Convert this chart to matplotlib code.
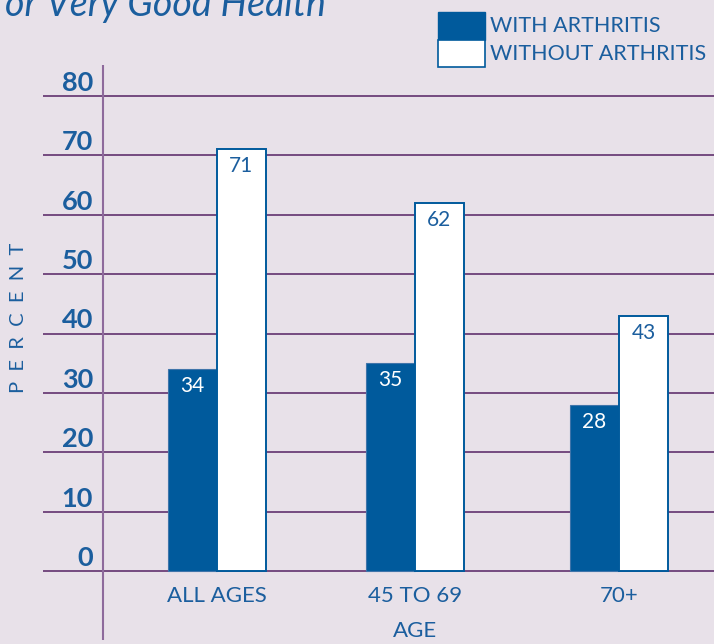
import matplotlib
matplotlib.use("Agg")
import matplotlib.pyplot as plt
from matplotlib.patches import Rectangle
import matplotlib.transforms as mtransforms

categories = ["ALL AGES", "45 TO 69", "70+"]
with_arthritis = [34, 35, 28]
without_arthritis = [71, 62, 43]
yticks = [0, 10, 20, 30, 40, 50, 60, 70, 80]
series_names = ["WITH ARTHRITIS", "WITHOUT ARTHRITIS"]

BG = "#e8e1e9"
DARK = "#005a9c"
TXT = "#1b5e9e"
GRID = "#6b3f78"
VLINE = "#8e6a9c"

W, H = 714, 644
fig = plt.figure(figsize=(W / 100, H / 100), dpi=100, facecolor=BG)
ax = fig.add_axes([43 / W, 4 / H, 671 / W, 575 / H])
ax.set_facecolor(BG)
for s in ax.spines.values():
    s.set_visible(False)
ax.set_xticks([])
ax.set_yticks([])

ppu = (571 - 96) / 80.0
ax.set_ylim(-(640 - 571) / ppu, 80 + (96 - 65) / ppu)

unit = 198.0
xpos = [0.0, 1.0, 2.03]
ax.set_xlim(-(217 - 43) / unit, (714 - 217) / unit)
bw = 49 / unit

blend = mtransforms.blended_transform_factory(ax.transAxes, ax.transData)
for v in yticks:
    ax.axhline(v, color=GRID, lw=1.3, zorder=1)
    ax.text((93 - 43) / 671, v + 5 / ppu, str(v), transform=blend,
            ha="right", va="baseline", fontsize=19.5, fontweight="bold", color=TXT, family="Lato")
ax.axvline(-(217 - 103) / unit, color=VLINE, lw=1.5, zorder=1)

for i, x in enumerate(xpos):
    ax.bar(x - bw / 2, with_arthritis[i], width=bw, color=DARK, edgecolor="#3f74aa", lw=0.8, zorder=3)
    ax.bar(x + bw / 2, without_arthritis[i], width=bw, color="white", edgecolor=DARK, lw=1.4, zorder=3)
    ax.text(x - bw / 2, with_arthritis[i] - 17 / ppu, str(with_arthritis[i]), ha="center", va="center",
            color="white", fontsize=15, family="Lato", zorder=4)
    ax.text(x + bw / 2, without_arthritis[i] - 17 / ppu, str(without_arthritis[i]), ha="center", va="center",
            color=TXT, fontsize=15, family="Lato", zorder=4)
    ax.text(x, -(596 - 571) / ppu, categories[i], ha="center", va="center", color=TXT, fontsize=16, family="Lato")

ax.text(xpos[1], -(631 - 571) / ppu, "AGE", ha="center", va="center", color=TXT, fontsize=16, family="Lato")

fig.text(19 / W, 1 - 318 / H, "P  E  R  C  E  N  T", rotation=90, ha="center", va="center", color=TXT,
         fontsize=14.5, family="Lato")

fig.text(5 / W, 1 - 16 / H, "or Very Good Health", ha="left", va="baseline", color=TXT, fontsize=27,
         style="italic", family="Lato")

# legend
fig.patches.append(Rectangle((438 / W, 1 - 40 / H), 47 / W, 28 / H, transform=fig.transFigure,
                             facecolor=DARK, edgecolor=DARK, lw=1))
fig.patches.append(Rectangle((438 / W, 1 - 67 / H), 47 / W, 27 / H, transform=fig.transFigure,
                             facecolor="white", edgecolor=DARK, lw=1.2))
fig.text(490 / W, 1 - 26 / H, series_names[0], ha="left", va="center", color=TXT, fontsize=15.5, family="Lato")
fig.text(490 / W, 1 - 54 / H, series_names[1], ha="left", va="center", color=TXT, fontsize=15.5, family="Lato")

fig.savefig("out.png", dpi=100, facecolor=BG)
